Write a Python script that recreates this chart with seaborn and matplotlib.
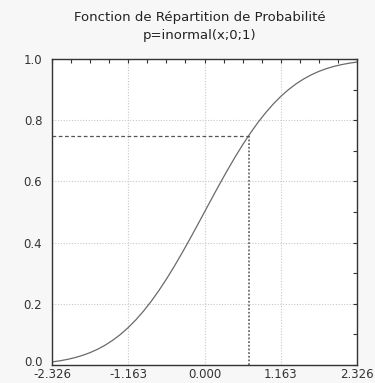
import matplotlib
matplotlib.use("Agg")
import matplotlib.pyplot as plt
import matplotlib.transforms as mtransforms
import seaborn as sns
import pandas as pd
from matplotlib.ticker import FixedLocator, FixedFormatter

# Cumulative probability values p(x) for the standard normal, x from -2.326 to 2.326
x_vals = [-2.326, -2.2097, -2.0934, -1.9771, -1.8608, -1.7445, -1.6282, -1.5119,
          -1.3956, -1.2793, -1.163, -1.0467, -0.9304, -0.8141, -0.6978, -0.5815,
          -0.4652, -0.3489, -0.2326, -0.1163, 0.0, 0.1163, 0.2326, 0.3489, 0.4652,
          0.5815, 0.6978, 0.8141, 0.9304, 1.0467, 1.163, 1.2793, 1.3956, 1.5119,
          1.6282, 1.7445, 1.8608, 1.9771, 2.0934, 2.2097, 2.326]
p_vals = [0.0100, 0.0136, 0.0182, 0.0240, 0.0314, 0.0405, 0.0517, 0.0653,
          0.0814, 0.1004, 0.1224, 0.1476, 0.1761, 0.2078, 0.2427, 0.2805,
          0.3209, 0.3636, 0.4080, 0.4537, 0.5000, 0.5463, 0.5920, 0.6364, 0.6791,
          0.7195, 0.7573, 0.7922, 0.8239, 0.8524, 0.8776, 0.8996, 0.9186, 0.9347,
          0.9483, 0.9595, 0.9686, 0.9760, 0.9818, 0.9864, 0.9900]

# Quantile marker: x such that p = 0.75
q_x = 0.674
q_p = 0.75

x_ticks = [-2.326, -1.163, 0.0, 1.163, 2.326]
x_tick_labels = ["-2.326", "-1.163", "0.000", "1.163", "2.326"]
y_ticks = [0.0, 0.2, 0.4, 0.6, 0.8, 1.0]
y_tick_labels = ["0.0", "0.2", "0.4", "0.6", "0.8", "1.0"]

title_line1 = "Fonction de Répartition de Probabilité"
title_line2 = "p=inormal(x;0;1)"

sns.set_style("white")
plt.rcParams["font.family"] = ["DejaVu Sans"]

fig = plt.figure(figsize=(3.75, 3.83), dpi=100, facecolor="#f7f7f7")
ax = fig.add_axes([52 / 375, 1 - 365 / 383, (357 - 52) / 375, (365 - 59) / 383])
ax.set_facecolor("white")

df = pd.DataFrame({"x": x_vals, "p": p_vals})
sns.lineplot(data=df, x="x", y="p", ax=ax, color="#6a6a6a", linewidth=0.9)

# Reference lines for the 0.75 quantile
ax.plot([x_ticks[0], q_x], [q_p, q_p], color="#555555", linestyle=(0, (3, 2)), linewidth=0.9)
ax.plot([q_x, q_x], [0, q_p], color="#555555", linestyle=(0, (1.2, 1.2)), linewidth=1.1)

ax.set_xlim(x_ticks[0], x_ticks[-1])
ax.set_ylim(0, 1)
ax.set_xlabel("")
ax.set_ylabel("")

ax.xaxis.set_major_locator(FixedLocator(x_ticks))
ax.xaxis.set_major_formatter(FixedFormatter(x_tick_labels))
step = (x_ticks[1] - x_ticks[0]) / 4
ax.xaxis.set_minor_locator(FixedLocator([x_ticks[0] + i * step for i in range(17)]))
ax.yaxis.set_major_locator(FixedLocator(y_ticks))
ax.yaxis.set_major_formatter(FixedFormatter(y_tick_labels))
ax.yaxis.set_minor_locator(FixedLocator([i / 10 for i in range(11)]))

ax.grid(True, which="major", color="#c8c8c8", linestyle=(0, (1, 1.5)), linewidth=0.8)
ax.tick_params(which="both", direction="in", top=True, right=True, length=3,
               width=0.8, color="#333333")
ax.tick_params(which="major", labelsize=8.5, labelcolor="#333333")
ax.tick_params(axis="y", pad=7)
ax.tick_params(axis="x", pad=2.5)

# Lift the lowest y label a little so it clears the first x label
fig.canvas.draw()
lift = mtransforms.ScaledTranslation(0, 4 / 100, fig.dpi_scale_trans)
first_y = ax.yaxis.get_majorticklabels()[0]
first_y.set_transform(first_y.get_transform() + lift)

for side in ["left", "bottom", "top", "right"]:
    ax.spines[side].set_visible(True)
    ax.spines[side].set_color("#333333")
    ax.spines[side].set_linewidth(1.0)

fig.text(0.5 + 12 / 375, 1 - 18 / 383, title_line1, ha="center", va="center",
         fontsize=9.5, color="#222222")
fig.text(0.5 + 12 / 375, 1 - 36 / 383, title_line2, ha="center", va="center",
         fontsize=9.5, color="#222222")

fig.savefig("out.png", dpi=100, facecolor=fig.get_facecolor())
